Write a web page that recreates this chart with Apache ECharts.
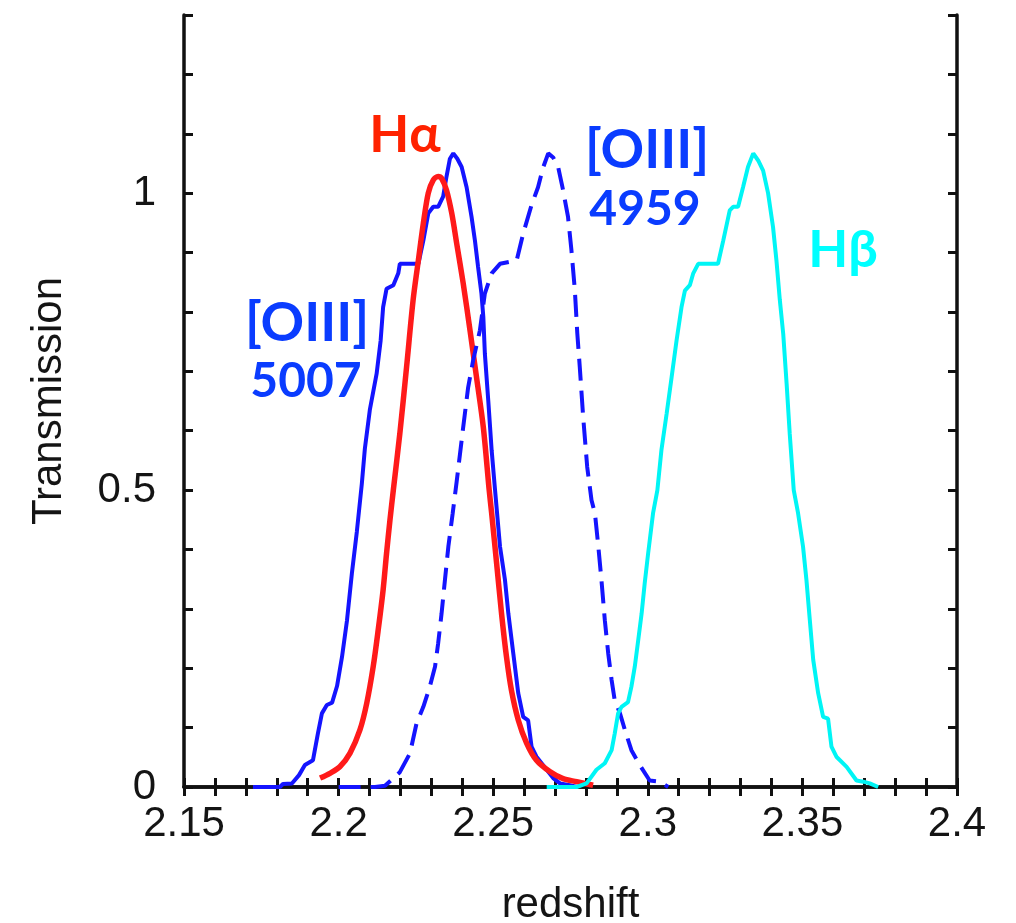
<!DOCTYPE html>
<html>
<head>
<meta charset="utf-8">
<script src="https://cdn.jsdelivr.net/npm/echarts@6/dist/echarts.min.js"></script>
<style>
html,body{margin:0;padding:0;background:#fff;}
#chart{width:1016px;height:923px;}
</style>
</head>
<body>
<div id="chart"></div>
<script>
// ---- tick labels ----
const xTickLabels = ['2.15', '2.2', '2.25', '2.3', '2.35', '2.4'];
const yTickLabels = ['0', '0.5', '1'];

// ---- [OIII] 5007 (solid blue) ----
const oiii5007Z = [2.1723, 2.1810, 2.1820, 2.1849, 2.1872, 2.1891, 2.1917, 2.1933, 2.1946, 2.1962, 2.1979, 2.1995, 2.2011, 2.2027, 2.2043, 2.2059, 2.2075, 2.2085, 2.2101, 2.2123, 2.2136, 2.2144, 2.2155, 2.2177, 2.2193, 2.2198, 2.2258, 2.2274, 2.2290, 2.2306, 2.2322, 2.2338, 2.2349, 2.2360, 2.2371, 2.2384, 2.2398, 2.2414, 2.2430, 2.2441, 2.2451, 2.2462, 2.2468, 2.2473, 2.2484, 2.2495, 2.2506, 2.2522, 2.2538, 2.2549, 2.2565, 2.2581, 2.2597, 2.2613, 2.2624, 2.2640, 2.2673, 2.2694, 2.2716, 2.2748, 2.2771];
const oiii5007T = [0, 0, 0.005, 0.006, 0.02, 0.037, 0.045, 0.09, 0.124, 0.138, 0.142, 0.17, 0.219, 0.28, 0.36, 0.43, 0.51, 0.57, 0.635, 0.696, 0.752, 0.808, 0.839, 0.845, 0.865, 0.881, 0.881, 0.92, 0.966, 0.977, 0.977, 0.994, 1.028, 1.058, 1.067, 1.058, 1.044, 1.01, 0.96, 0.92, 0.876, 0.831, 0.792, 0.73, 0.651, 0.567, 0.5, 0.405, 0.349, 0.292, 0.225, 0.158, 0.118, 0.112, 0.068, 0.051, 0.029, 0.015, 0.006, 0.003, 0];

// ---- H-alpha (red) ----
const haZ = [2.1940, 2.1972, 2.2004, 2.2037, 2.2069, 2.2091, 2.2112, 2.2128, 2.2144, 2.2155, 2.2166, 2.2177, 2.2198, 2.2220, 2.2241, 2.2258, 2.2274, 2.2290, 2.2306, 2.2322, 2.2333, 2.2349, 2.2366, 2.2382, 2.2403, 2.2425, 2.2446, 2.2468, 2.2487, 2.2495, 2.2511, 2.2527, 2.2543, 2.2559, 2.2581, 2.2608, 2.2640, 2.2683, 2.2726, 2.2770, 2.2823];
const haT = [0.015, 0.023, 0.034, 0.057, 0.096, 0.141, 0.203, 0.264, 0.332, 0.393, 0.449, 0.5, 0.595, 0.708, 0.82, 0.887, 0.949, 1.0, 1.022, 1.028, 1.025, 1.005, 0.966, 0.915, 0.848, 0.769, 0.69, 0.606, 0.5, 0.461, 0.377, 0.292, 0.219, 0.163, 0.113, 0.074, 0.045, 0.026, 0.014, 0.009, 0.003];

// ---- [OIII] 4959 (dashed blue) ----
const oiii4959Z = [2.2000, 2.2118, 2.2150, 2.2198, 2.2231, 2.2252, 2.2274, 2.2295, 2.2312, 2.2322, 2.2333, 2.2344, 2.2355, 2.2369, 2.2382, 2.2403, 2.2419, 2.2435, 2.2457, 2.2473, 2.2495, 2.2522, 2.2576, 2.2597, 2.2624, 2.2645, 2.2662, 2.2678, 2.2694, 2.2710, 2.2726, 2.2742, 2.2753, 2.2764, 2.2772, 2.2780, 2.2791, 2.2804, 2.2818, 2.2829, 2.2840, 2.2850, 2.2861, 2.2872, 2.2883, 2.2893, 2.2910, 2.2926, 2.2947, 2.2974, 2.3006, 2.3039, 2.3066];
const oiii4959T = [0, 0, 0.002, 0.025, 0.057, 0.107, 0.135, 0.169, 0.203, 0.242, 0.292, 0.349, 0.405, 0.461, 0.515, 0.606, 0.673, 0.718, 0.769, 0.831, 0.865, 0.881, 0.887, 0.932, 0.98, 1.01, 1.044, 1.067, 1.06, 1.044, 1.005, 0.96, 0.904, 0.837, 0.764, 0.707, 0.623, 0.539, 0.483, 0.461, 0.405, 0.349, 0.281, 0.225, 0.18, 0.146, 0.124, 0.096, 0.062, 0.037, 0.011, 0.009, 0];

// ---- H-beta (cyan) ----
const hbZ = [2.2673, 2.2770, 2.2802, 2.2834, 2.2861, 2.2883, 2.2893, 2.2904, 2.2915, 2.2936, 2.2947, 2.2958, 2.2969, 2.2980, 2.2990, 2.3001, 2.3017, 2.3031, 2.3044, 2.3061, 2.3077, 2.3093, 2.3109, 2.3120, 2.3136, 2.3147, 2.3163, 2.3227, 2.3244, 2.3265, 2.3276, 2.3292, 2.3308, 2.3324, 2.3341, 2.3357, 2.3373, 2.3389, 2.3405, 2.3416, 2.3427, 2.3438, 2.3449, 2.3459, 2.3472, 2.3486, 2.3502, 2.3513, 2.3524, 2.3535, 2.3551, 2.3567, 2.3583, 2.3594, 2.3610, 2.3643, 2.3675, 2.3697, 2.3718, 2.3745];
const hbT = [0, 0, 0.006, 0.029, 0.04, 0.062, 0.09, 0.124, 0.135, 0.143, 0.169, 0.203, 0.247, 0.292, 0.343, 0.393, 0.461, 0.5, 0.567, 0.629, 0.69, 0.752, 0.808, 0.836, 0.845, 0.865, 0.881, 0.881, 0.92, 0.971, 0.977, 0.977, 1.01, 1.044, 1.067, 1.055, 1.038, 1.0, 0.943, 0.887, 0.82, 0.763, 0.679, 0.595, 0.5, 0.461, 0.405, 0.349, 0.281, 0.214, 0.158, 0.118, 0.115, 0.068, 0.051, 0.034, 0.011, 0.009, 0.006, 0];

function pairs(zs, ts) { return zs.map((z, i) => [z, ts[i]]); }

const TXT = '#141414';
const tickFont = 'Liberation Sans, Arial, sans-serif';
const annFont = 'Lato, "Noto Sans", sans-serif';

function xFmt(v) {
  const s = String(+v.toFixed(2));
  return xTickLabels.indexOf(s) >= 0 ? s : '';
}
function yFmt(v) {
  const s = String(+v.toFixed(2));
  return yTickLabels.indexOf(s) >= 0 ? s : '';
}

const axisLineStyle = { color: '#111', width: 3.5 };
const tickStyle = { show: true, inside: true, length: 9, lineStyle: { color: '#111', width: 3 } };
const minorTickStyle = { show: true, splitNumber: 5, length: 9, lineStyle: { color: '#111', width: 3 } };

const chart = echarts.init(document.getElementById('chart'), null, { renderer: 'canvas' });
chart.setOption({
  animation: false,
  backgroundColor: '#fff',
  grid: { left: 184, right: 59, top: 15, bottom: 136, containLabel: false, outerBoundsMode: 'none' },
  xAxis: [
    {
      type: 'value', position: 'bottom', min: 2.15, max: 2.4, interval: 0.05,
      axisLine: { show: true, lineStyle: axisLineStyle },
      axisTick: tickStyle,
      minorTick: minorTickStyle,
      splitLine: { show: false },
      axisLabel: { formatter: xFmt, margin: 16, fontSize: 42, color: TXT, fontFamily: tickFont },
      name: 'redshift', nameLocation: 'middle', nameGap: 97,
      nameTextStyle: { fontSize: 42, color: TXT, fontFamily: tickFont }
    },
    {
      type: 'value', position: 'top', min: 2.15, max: 2.4, interval: 0.05,
      axisLine: { show: true, lineStyle: axisLineStyle },
      axisTick: tickStyle,
      minorTick: minorTickStyle,
      splitLine: { show: false },
      axisLabel: { show: false }
    }
  ],
  yAxis: [
    {
      type: 'value', position: 'left', min: 0, max: 1.3, interval: 0.1,
      axisLine: { show: true, lineStyle: axisLineStyle },
      axisTick: tickStyle,
      splitLine: { show: false },
      axisLabel: { formatter: yFmt, margin: 28, fontSize: 42, color: TXT, fontFamily: tickFont },
      name: 'Transmission', nameLocation: 'middle', nameGap: 114, nameRotate: 90,
      nameTextStyle: { fontSize: 42, color: TXT, fontFamily: tickFont }
    },
    {
      type: 'value', position: 'right', min: 0, max: 1.3, interval: 0.1,
      axisLine: { show: true, lineStyle: axisLineStyle },
      axisTick: tickStyle,
      splitLine: { show: false },
      axisLabel: { show: false }
    }
  ],
  series: [
    {
      name: '[OIII] 5007', type: 'line', xAxisIndex: 0, yAxisIndex: 0,
      data: pairs(oiii5007Z, oiii5007T), showSymbol: false, symbol: 'none',
      lineStyle: { color: '#1414ff', width: 4 }
    },
    {
      name: 'Hα', type: 'line', xAxisIndex: 0, yAxisIndex: 0,
      data: pairs(haZ, haT), showSymbol: false, symbol: 'none', smooth: 0.3,
      lineStyle: { color: '#ff1a1a', width: 5.5 }
    },
    {
      name: '[OIII] 4959', type: 'line', xAxisIndex: 0, yAxisIndex: 0,
      data: pairs(oiii4959Z, oiii4959T), showSymbol: false, symbol: 'none',
      lineStyle: { color: '#1414ff', width: 4, type: [22, 10] }
    },
    {
      name: 'Hβ', type: 'line', xAxisIndex: 0, yAxisIndex: 0,
      data: pairs(hbZ, hbT), showSymbol: false, symbol: 'none',
      lineStyle: { color: '#00f5f5', width: 4 }
    }
  ],
  graphic: [
    { type: 'text', x: 405, y: 135, style: { text: 'Hα', fill: '#ff2200', font: 'bold 52px ' + annFont, textAlign: 'center', textVerticalAlign: 'middle' } },
    { type: 'text', x: 307, y: 324, style: { text: '[OIII]', fill: '#0a3cff', font: 'bold 54px ' + annFont, textAlign: 'center', textVerticalAlign: 'middle' } },
    { type: 'text', x: 306, y: 382, style: { text: '5007', fill: '#0a3cff', font: 'bold 48px ' + annFont, textAlign: 'center', textVerticalAlign: 'middle' } },
    { type: 'text', x: 647, y: 151, style: { text: '[OIII]', fill: '#0a3cff', font: 'bold 54px ' + annFont, textAlign: 'center', textVerticalAlign: 'middle' } },
    { type: 'text', x: 645, y: 210, style: { text: '4959', fill: '#0a3cff', font: 'bold 48px ' + annFont, textAlign: 'center', textVerticalAlign: 'middle' } },
    { type: 'text', x: 843, y: 250, style: { text: 'Hβ', fill: '#00ffff', font: 'bold 52px ' + annFont, textAlign: 'center', textVerticalAlign: 'middle' } }
  ]
});
</script>
</body>
</html>
